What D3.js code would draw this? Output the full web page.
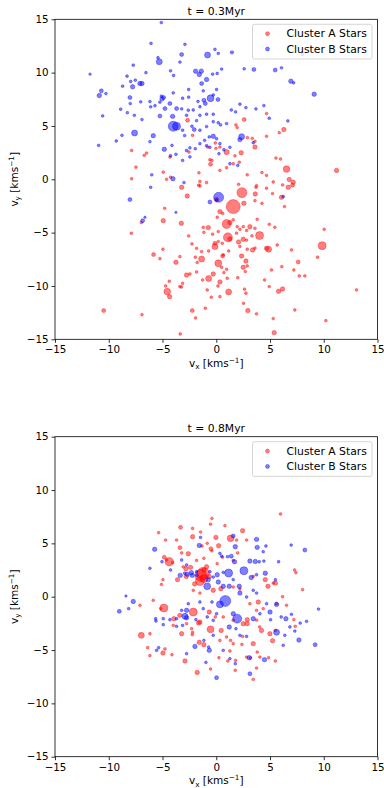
<!DOCTYPE html>
<html>
<head>
<meta charset="utf-8">
<script src="https://cdn.jsdelivr.net/npm/d3@7"></script>
<style>
html,body{margin:0;padding:0;background:#fff;}
svg{display:block;font-family:"DejaVu Sans",sans-serif;}
</style>
</head>
<body>
<svg id="chart" width="384" height="788"></svg>
<script>
// ---------- DATA (vx, vy, mass) ----------
const panelTitles = ["t = 0.3Myr", "t = 0.8Myr"];
const seriesNames = ["Cluster A Stars", "Cluster B Stars"];
const ticks = [-15, -10, -5, 0, 5, 10, 15];

const clusterA_t03 = [[-2.67,5.53,4],[2.6,5.6,4],[1.83,5.1,2],[1.95,4.85,2],[4.68,6.16,2],[6.29,4.66,5],[5.86,4.37,2],[4.68,4.03,2],[2.9,3.9,2],[3.35,3.84,2],[3.6,3.56,2],[3.6,3.02,5],[-2.2,4.12,2],[-0.09,3.4,2],[-0.8,3.02,2],[-0.03,2.9,2],[0.34,3.02,2],[0.96,2.55,7],[2.32,2.49,5],[1.74,2.2,2],[-2.54,2.55,2],[-4.3,2.08,2],[-6.48,2.46,2],[-6.7,2.25,2],[-7.87,2.7,2],[-7.47,1.14,2],[-7.87,0.05,2],[-4.93,0.67,2],[-4.25,0.2,2],[-4.62,0.0,2],[-1.61,0.61,2],[-0.59,1.83,2],[-0.53,1.4,4],[-0.4,1.77,2],[0.34,0.83,2],[0.96,1.08,2],[1.58,1.46,2],[2.14,1.6,2],[2.88,0.42,2],[4.25,0.64,2],[4.68,0.36,2],[5.55,1.99,2],[5.98,1.9,2],[6.54,0.96,11],[6.79,-0.02,5],[7.16,-0.27,5],[7.1,-0.55,4],[11.19,0.83,5],[2.08,-0.47,2],[3.75,-0.6,2],[5.3,-0.25,2],[-1.52,-0.2,2],[-1.64,-0.55,2],[-2.7,-1.56,5],[-3.22,-0.75,5],[-1.52,-0.625,2],[-0.9,-0.31,2],[2.39,-1.25,25],[1.58,-2.56,49],[3.63,-1.375,5],[3.69,-0.75,2],[4.68,-0.84,2],[5.24,-1.34,2],[6.07,-1.69,5],[6.7,-0.75,5],[6.17,-0.53,2],[4.25,-2.25,2],[3.6,-2.0,2],[2.57,-2.25,5],[6.35,-2.56,2],[0.03,-1.9,5],[-4.8,-2.72,2],[-4.93,-3.875,5],[-3.25,-4.125,5],[-7.9,-5.06,2],[-6.97,-4.06,2],[0.34,-3.03,5],[0.59,-3.2,2],[0.09,-3.56,2],[0.96,-4.19,20],[1.27,-4.06,5],[1.58,-3.8,2],[1.08,-5.44,20],[1.27,-5.6,5],[-1.21,-4.5,2],[-0.74,-4.53,5],[-1.15,-4.97,2],[-0.34,-5.15,2],[0.19,-4.9,2],[1.95,-4.44,2],[2.2,-4.69,2],[2.51,-4.44,2],[2.82,-4.8,2],[3.13,-4.44,5],[3.6,-4.6,2],[3.81,-3.75,2],[4.93,-4.22,2],[5.45,-4.5,2],[4.03,-5.28,16],[1.89,-5.05,2],[2.08,-5.875,5],[2.51,-5.625,5],[2.82,-5.7,2],[3.32,-5.3,2],[2.2,-6.3,2],[3.6,-6.45,2],[3.38,-6.625,5],[2.88,-6.56,2],[4.87,-6.56,9],[4.68,-6.47,5],[5.67,-6.16,2],[7.0,-6.625,2],[9.85,-6.22,16],[10.04,-4.69,2],[9.42,-7.31,2],[7.62,-7.75,4],[-0.12,-6.0,4],[0.19,-5.84,2],[-0.12,-6.31,9],[0.56,-6.0,2],[1.15,-6.72,2],[0.65,-7.09,2],[-0.71,-6.72,2],[-1.36,-6.78,2],[-1.36,-7.47,9],[-1.95,-7.3,2],[-1.83,-6.47,2],[-2.26,-6.06,2],[-2.57,-5.31,2],[-3.38,-7.25,2],[-3.75,-7.78,5],[-5.83,-7.06,4],[-5.24,-7.44,2],[-4.96,-6.56,2],[0.19,-7.875,12],[0.59,-7.19,4],[0.5,-8.25,2],[0.71,-8.75,2],[0.96,-8.44,2],[-0.28,-8.875,5],[-0.71,-9.31,9],[-1.27,-9.44,2],[-1.83,-8.69,2],[-2.45,-8.875,2],[-2.76,-8.97,5],[-3.13,-9.75,2],[-3.38,-10.06,2],[-1.77,-7.8,2],[-0.84,-10.375,2],[0.34,-9.625,5],[1.02,-9.28,2],[2.0,-9.22,2],[2.36,-7.19,5],[2.76,-7.66,5],[2.88,-8.12,2],[2.51,-8.25,5],[2.7,-8.65,2],[5.14,-8.5,2],[6.1,-8.19,2],[7.22,-8.5,2],[7.72,-9.06,2],[8.24,-9.06,2],[4.5,-9.44,2],[4.93,-10.06,2],[6.17,-10.28,5],[5.8,-10.5,5],[1.15,-10.56,9],[2.63,-10.3,2],[2.76,-10.68,2],[0.34,-11.0,2],[-0.46,-11.06,2],[0.16,-10.0,2],[-4.56,-10.53,11],[-4.34,-11.0,5],[-4.71,-10.0,2],[-4.37,-9.56,2],[-3.25,-10.1,2],[-10.47,-12.31,4],[-6.91,-12.69,2],[-2.23,-12.31,4],[-1.92,-13.0,2],[-1.02,-12.09,2],[2.54,-11.625,2],[2.94,-12.31,5],[3.75,-12.62,2],[7.31,-12.25,2],[5.3,-13.06,2],[10.2,-13.25,2],[13.05,-10.375,2],[-3.35,-14.5,2],[5.39,-14.375,5]];

const clusterB_t03 = [[-5.11,14.69,2],[-6.07,12.74,2],[-2.91,12.65,2],[-0.12,12.18,2],[0.19,11.8,2],[-0.81,11.65,9],[-5.3,11.02,9],[-5.42,11.4,2],[-3.22,11.7,4],[-3.38,10.99,2],[1.46,11.9,3],[8.0,11.7,2],[-7.72,10.7,2],[-11.74,9.86,1.5],[-8.3,9.67,2],[-6.54,10.0,2],[-4.25,10.17,2],[-3.97,9.73,2],[-1.92,10.14,5],[-1.58,9.83,5],[-1.39,10.14,5],[-0.9,9.36,5],[-0.34,9.86,2],[0.09,9.92,2],[0.5,10.33,2],[2.6,10.36,2],[3.5,10.3,4],[5.48,10.24,4],[6.07,10.45,2],[6.94,9.2,5],[7.2,9.04,2],[9.11,7.98,5],[-7.96,9.17,2],[-7.53,9.29,2],[-7.1,8.98,5],[-6.91,8.98,5],[-7.78,8.67,5],[-8.71,8.73,2],[-10.69,8.29,4],[-10.88,7.85,5],[-10.26,8.04,2],[-10.57,5.94,2],[-10.94,3.18,2],[-9.3,3.59,2],[-8.77,4.12,2],[-7.6,4.34,9],[-5.86,4.09,5],[-6.17,3.53,2],[-4.83,2.81,5],[-4.12,3.18,2],[-3.75,2.34,2],[-4.25,2.21,2],[-4.0,4.97,25],[-3.69,4.97,16],[-4.06,5.9,5],[-5.24,5.94,4],[-5.24,7.23,2],[-5.05,7.54,5],[-4.9,7.67,4],[-5.1,7.8,2],[-4.31,7.1,4],[-4.0,8.1,2],[-6.17,7.29,2],[-6.1,6.79,2],[-5.7,6.9,2],[-7.03,7.26,2],[-8.03,7.67,4],[-8.0,7.1,2],[-7.62,6.0,2],[-8.27,6.25,2],[-8.89,6.57,2],[-6.91,5.6,2],[-4.77,6.63,4],[-3.69,6.63,4],[-3.22,6.6,2],[-2.57,8.42,2],[-3.13,7.6,2],[-2.6,6.47,2],[-2.14,6.5,2],[-1.21,8.29,2],[-1.15,7.41,4],[-0.53,7.6,12],[-0.28,7.9,2],[0.03,8.42,2],[0.16,7.48,4],[-1.02,7.1,4],[-1.52,6.8,2],[-1.36,8.98,4],[-1.7,7.3,2],[-2.57,7.7,2],[2.2,7.04,2],[1.8,6.32,2],[1.4,6.5,2],[2.76,6.72,2],[3.69,6.6,2],[4.43,6.91,2],[4.93,5.72,2],[6.66,5.47,2],[2.36,4.0,9],[2.2,3.72,5],[3.44,3.43,2],[6.23,-1.62,2],[-3.13,4.6,2],[-2.94,4.1,2],[-2.26,4.97,2],[-2.05,4.66,4],[-1.52,4.6,2],[-0.9,4.94,2],[-0.28,5.4,2],[0.19,5.3,2],[0.4,5.1,2],[0.96,5.22,2],[-1.52,6.0,2],[-0.9,6.1,2],[-0.28,6.1,2],[-2.76,6.0,2],[-1.83,5.5,2],[-0.28,4.03,5],[-0.65,3.97,2],[-1.08,3.65,2],[-1.52,3.34,2],[-0.9,3.15,2],[-1.95,2.87,2],[-2.45,2.95,2],[-2.76,2.7,2],[-3.13,1.77,2],[-2.45,2.1,2],[-0.59,3.0,2],[0.03,3.8,2],[0.34,3.34,2],[0.71,2.77,2],[1.27,3.0,2],[0.25,2.4,2],[1.27,1.46,2],[2.0,1.3,2],[-6.0,0.42,2],[-4.03,0.05,5],[-8.03,-1.9,4],[-6.1,-0.75,2],[-3.0,-0.31,2],[-6.63,-3.56,1.5],[-6.85,-3.875,4],[-3.75,-3.1,1.5],[0.22,-1.69,25],[-0.59,-2.13,4],[0.03,-1.95,2]];

const clusterA_t08 = [[5.98,7.75,2],[-0.4,7.34,2],[-0.53,6.8,2],[0.81,6.66,2],[-3.32,6.5,4],[-2.2,6.4,2],[-1.46,6.06,2],[2.45,6.19,5],[-5.36,6.0,2],[-3.69,5.31,2],[-2.2,5.625,5],[-0.03,5.56,5],[1.33,5.47,11],[1.89,5.31,2],[2.82,5.31,2],[-4.71,5.31,2],[-0.84,5.0,2],[-0.5,4.5,4],[0.22,4.78,5],[-0.4,4.3,2],[-1.33,4.75,2],[-3.38,4.6,4],[-3.22,4.1,2],[1.99,4.1,2],[-2.6,4.03,5],[-4.83,3.69,4],[-4.62,3.44,2],[-4.37,3.28,18],[-4.06,3.2,2],[-2.82,2.625,5],[-2.39,2.75,5],[-3.07,2.8,2],[-1.83,3.4,2],[-1.15,3.6,2],[-0.9,2.8,5],[0.09,3.1,2],[0.59,3.7,2],[1.58,3.4,2],[7.28,2.5,2],[7.41,2.25,2],[-1.21,2.19,36],[-1.43,2.0,36],[-1.15,2.5,5],[3.44,1.9,2],[-1.52,1.47,20],[-1.15,1.7,16],[-0.65,1.9,5],[-2.01,1.2,5],[-2.79,1.9,5],[-3.6,1.6,5],[-5.1,1.15,2],[-4.96,1.6,2],[-2.14,0.6,2],[-1.52,0.34,2],[-0.28,0.6,5],[0.43,0.75,5],[1.58,0.9,2],[2.2,0.72,2],[4.56,1.6,5],[4.81,0.97,5],[5.3,1.28,2],[5.5,1.28,5],[8.03,0.66,2],[6.17,0.0,2],[6.54,-0.81,2],[-4.87,-1.06,16],[-7.1,-0.81,2],[-5.17,-1.12,2],[-5.86,-0.34,2],[-6.97,-3.625,9],[-6.17,-3.47,2],[-6.38,-4.78,2],[-6.17,-5.53,2],[-4.96,-5.28,5],[-4.12,-5.44,2],[-4.77,-4.9,2],[-2.14,-1.44,16],[-3.38,-1.75,5],[-4.0,-2.69,2],[-3.22,-3.47,5],[-3.94,-2.06,5],[-1.52,-2.375,5],[-1.64,-2.47,5],[-2.29,-3.0,2],[-2.23,-3.56,2],[-1.58,-4.28,5],[-1.15,-4.5,5],[-0.53,-3.06,12],[0.46,-3.16,5],[0.34,-4.1,2],[0.96,-3.78,2],[1.33,-4.1,2],[1.58,-4.4,2],[-0.65,-1.44,5],[-0.09,-1.9,2],[0.65,-1.9,2],[1.58,-2.2,2],[2.51,-2.53,5],[2.88,-2.15,5],[2.88,-2.53,5],[3.75,-2.2,2],[4.21,-3.16,5],[4.03,-2.84,2],[4.99,-3.47,5],[5.24,-4.125,5],[5.5,-3.16,2],[7.22,-2.15,2],[7.35,-2.78,2],[3.44,-4.4,5],[2.45,-3.72,2],[2.39,-4.47,2],[3.81,-5.19,2],[4.06,-5.66,2],[2.82,-5.66,2],[4.87,-5.72,2],[5.5,-6.03,2],[3.44,-7.75,2],[3.75,-6.69,2],[1.77,-6.9,2],[1.8,-5.97,2],[1.08,-6.03,2],[-1.77,-7.1,5],[-0.53,-6.78,2],[0.25,-5.72,2],[-2.91,-6.03,5],[3.2,-5.75,2],[1.27,-5.09,2],[-2.2,-3.34,2],[-2.76,-2.53,2],[3.91,-0.5,5],[3.13,-0.66,2],[3.75,-1.28,2],[5.61,-0.66,2],[4.37,-1.12,2]];

const clusterB_t08 = [[-5.73,4.44,5],[-6.17,2.66,2],[-5.05,3.28,2],[-4.25,2.5,2],[-3.22,3.44,2],[-2.76,2.97,2],[-1.58,4.81,5],[-1.46,5.56,2],[0.34,4.06,2],[0.5,3.8,2],[1.05,3.75,2],[1.4,3.8,4],[0.09,2.06,5],[0.65,2.28,2],[1.15,2.22,16],[2.57,2.44,16],[1.58,5.69,4],[1.77,4.69,5],[1.7,3.28,5],[3.75,5.375,5],[3.81,4.625,5],[4.62,4.75,2],[4.37,4.22,2],[3.13,3.34,5],[3.63,3.3,5],[4.0,3.28,2],[4.43,3.34,2],[5.8,3.28,2],[6.97,4.84,2],[8.24,4.375,4],[3.25,1.8,5],[3.75,2.06,2],[4.56,2.2,5],[5.5,1.6,2],[-2.94,2.2,2],[-2.32,2.25,5],[-1.83,2.34,2],[-0.59,2.34,2],[-8.4,0.06,1.5],[-7.72,-0.44,5],[-9.02,-1.375,4],[-8.15,-1.12,2],[-5.64,-2.06,2],[-5.61,-2.28,2],[-4.93,-2.06,2],[-5.36,-4.78,2],[-5.55,-5.03,2],[-4.93,-2.625,2],[-4.31,-2.16,2],[-3.69,-2.06,2],[-2.91,-1.84,9],[-2.76,-1.97,5],[-3.22,-1.28,2],[-2.6,-0.66,2],[-3.35,2.0,5],[-2.7,2.1,5],[-2.23,2.0,5],[-1.8,2.0,2],[-0.84,0.97,12],[-0.74,1.6,5],[-0.28,1.84,2],[0.19,1.38,5],[0.65,0.97,5],[1.21,0.97,5],[2.14,0.97,5],[1.58,1.6,2],[2.2,0.34,5],[2.82,-0.03,2],[3.44,0.6,2],[3.75,0.34,2],[0.84,-0.4,30],[0.34,-0.72,12],[-0.4,-0.5,2],[-1.52,-0.5,2],[-1.21,-1.12,2],[-0.84,-1.9,2],[-0.28,-2.22,2],[0.03,-1.6,2],[1.95,-2.06,20],[1.58,-1.6,5],[1.21,-2.84,5],[1.83,-3.0,2],[2.2,-3.62,2],[2.82,-3.72,2],[3.44,-2.06,5],[4.06,-1.6,2],[4.68,-0.66,2],[5.61,-0.72,5],[5.0,-1.44,5],[5.05,-2.16,2],[6.04,-1.9,2],[6.48,-2.06,5],[7.0,-1.65,2],[7.81,-2.47,2],[8.4,-2.31,2],[6.85,-2.84,2],[5.61,-3.34,9],[6.38,-3.62,2],[7.31,-3.22,2],[7.69,-4.06,5],[9.2,-4.5,4],[9.51,-1.16,2],[6.23,-4.56,2],[4.49,-5.9,5],[3.07,-5.72,5],[3.13,-7.22,4],[0.03,-7.59,4],[-0.96,-6.16,2],[-0.65,-5.03,5],[-0.71,-4.72,2],[-1.15,-4.1,2],[-1.98,-4.66,5],[-2.76,-5.34,2],[1.27,-5.81,2],[1.77,-6.28,2],[0.65,-5.03,2],[-0.28,-3.62,2],[-2.76,-1.28,5],[-3.13,-2.69,2],[-1.89,-2.16,2],[-3.69,-2.78,2]];

// ---------- LAYOUT ----------
const svg = d3.select("#chart");
const plotLeft = 55, plotW = 322.5, plotH = 320;
const plotTops = [19.3, 436.7];
const colors = ["#ff0000", "#0000ff"];
const panels = [[clusterA_t03, clusterB_t03], [clusterA_t08, clusterB_t08]];

const x = d3.scaleLinear().domain([-15, 15]).range([0, plotW]);
const y = d3.scaleLinear().domain([-15, 15]).range([plotH, 0]);
const r = d3.scaleSqrt().domain([0, 49]).range([0, 7]);

panels.forEach((series, i) => {
  const g = svg.append("g").attr("transform", `translate(${plotLeft},${plotTops[i]})`);
  const clipId = "clip" + i;
  g.append("clipPath").attr("id", clipId).append("rect")
    .attr("width", plotW).attr("height", plotH);

  const pts = g.append("g").attr("clip-path", `url(#${clipId})`);
  series.forEach((data, s) => {
    pts.append("g").selectAll("circle").data(data).join("circle")
      .attr("cx", d => x(d[0]))
      .attr("cy", d => y(d[1]))
      .attr("r", d => r(d[2]))
      .attr("fill", colors[s])
      .attr("fill-opacity", 0.5)
      .attr("stroke", colors[s])
      .attr("stroke-opacity", 0.5)
      .attr("stroke-width", 0.7);
  });

  // axes
  const xAxis = d3.axisBottom(x).tickValues(ticks).tickSize(3.5).tickPadding(3).tickSizeOuter(0);
  const yAxis = d3.axisLeft(y).tickValues(ticks).tickSize(3.5).tickPadding(3).tickSizeOuter(0);
  const gx = g.append("g").attr("transform", `translate(0,${plotH})`).call(xAxis);
  const gy = g.append("g").call(yAxis);
  [gx, gy].forEach(a => {
    a.select(".domain").remove();
    a.selectAll("line").attr("stroke", "#000").attr("stroke-width", 0.8);
    a.selectAll("text").attr("font-family", "DejaVu Sans").attr("font-size", 10.3).attr("fill", "#000");
  });

  // frame
  g.append("rect").attr("width", plotW).attr("height", plotH)
    .attr("fill", "none").attr("stroke", "#000").attr("stroke-width", 0.8);

  // title
  g.append("text").attr("x", plotW / 2).attr("y", -4.5)
    .attr("text-anchor", "middle").attr("font-size", 10.8).text(panelTitles[i]);

  // x label
  const xl = g.append("text").attr("x", plotW / 2).attr("y", plotH + 27.5)
    .attr("text-anchor", "middle").attr("font-size", 10.5);
  xl.append("tspan").text("v");
  xl.append("tspan").attr("font-size", 7.3).attr("dy", 2.5).text("x");
  xl.append("tspan").attr("dy", -2.5).text(" [kms");
  xl.append("tspan").attr("font-size", 7.3).attr("dy", -4).text("\u22121");
  xl.append("tspan").attr("dy", 4).text("]");

  // y label
  const yl = g.append("text")
    .attr("transform", `translate(${-37.5},${plotH / 2}) rotate(-90)`)
    .attr("text-anchor", "middle").attr("font-size", 10.5);
  yl.append("tspan").text("v");
  yl.append("tspan").attr("font-size", 7.3).attr("dy", 2.5).text("y");
  yl.append("tspan").attr("dy", -2.5).text(" [kms");
  yl.append("tspan").attr("font-size", 7.3).attr("dy", -4).text("\u22121");
  yl.append("tspan").attr("dy", 4).text("]");

  // legend
  const lg = g.append("g").attr("transform", `translate(${plotW - 125},5)`);
  lg.append("rect").attr("width", 119.5).attr("height", 34.7).attr("rx", 2)
    .attr("fill", "#fff").attr("fill-opacity", 0.8).attr("stroke", "#cccccc").attr("stroke-width", 0.8);
  seriesNames.forEach((nm, s) => {
    lg.append("circle").attr("cx", 15).attr("cy", 9.4 + s * 15.3).attr("r", 2)
      .attr("fill", colors[s]).attr("fill-opacity", 0.5)
      .attr("stroke", colors[s]).attr("stroke-opacity", 0.5).attr("stroke-width", 0.7);
    lg.append("text").attr("x", 34).attr("y", 13.2 + s * 15.3)
      .attr("font-size", 10.8).text(nm);
  });
});
</script>
</body>
</html>
